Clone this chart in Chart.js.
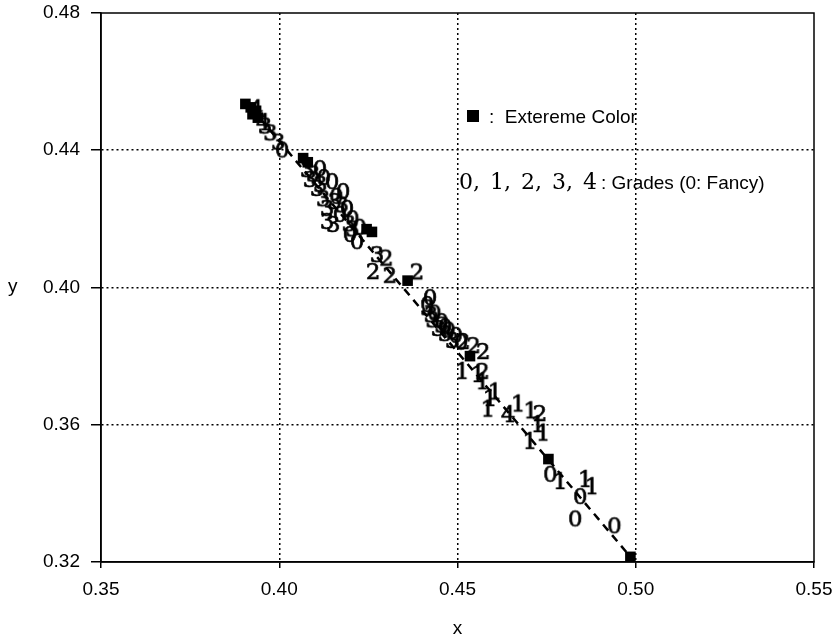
<!DOCTYPE html>
<html><head><meta charset="utf-8">
<script src="https://cdn.jsdelivr.net/npm/chart.js@4"></script>
<style>
html,body{margin:0;padding:0;background:#fff;}
#wrap{position:relative;width:835px;height:641px;overflow:hidden;}
#c{position:absolute;left:0;top:0;}
.t{position:absolute;font-family:'Liberation Sans',Arial,sans-serif;color:#000;white-space:nowrap;line-height:1;font-size:19px;}
.s{font-family:'DejaVu Serif',serif;font-size:22px;word-spacing:3px;}
</style></head><body>
<div id="wrap">
<canvas id="c" width="835" height="641"></canvas>
<div class="t" style="left:8px;top:276px;">y</div>
<div style="position:absolute;left:467px;top:110px;width:12px;height:12px;background:#000;"></div>
<div class="t" style="left:489px;top:107px;">:&nbsp; Extereme Color</div>
<div class="t s" style="left:459px;top:171px;">0, 1, 2, 3, 4</div>
<div class="t" style="left:601px;top:173px;">: Grades (0: Fancy)</div>
</div>
<script>
// ---- data (x, y) ----
const xTicks = [0.35, 0.40, 0.45, 0.50, 0.55];
const yTicks = [0.32, 0.36, 0.40, 0.44, 0.48];
const extremeColor = [[0.3905,0.4535],[0.392,0.4525],[0.3935,0.4515],[0.3925,0.4505],[0.394,0.4495],
  [0.4067,0.4377],[0.408,0.4365],[0.426,0.4162],[0.4245,0.417],[0.436,0.402],[0.4535,0.380],
  [0.4755,0.350],[0.4985,0.3215]];
const grade0 = [[0.4008,0.4405],[0.4114,0.4351],[0.4125,0.4325],[0.4148,0.4313],[0.416,0.427],[0.4179,0.4284],
  [0.419,0.4235],[0.417,0.4217],[0.4205,0.4205],[0.4198,0.4159],[0.4225,0.418],[0.4218,0.4138],
  [0.4415,0.3955],[0.4423,0.3975],[0.4435,0.393],[0.4455,0.3905],[0.4465,0.389],[0.4475,0.388],
  [0.4495,0.3865],[0.451,0.3845],[0.476,0.346],[0.4844,0.3395],[0.483,0.333],[0.494,0.331]];
const grade1 = [[0.4513,0.376],[0.4557,0.3751],[0.457,0.373],[0.4591,0.3681],[0.4605,0.370],[0.4585,0.365],
  [0.467,0.3665],[0.4705,0.3645],[0.4703,0.3556],[0.474,0.358],[0.4725,0.3605],
  [0.4788,0.3439],[0.4858,0.3445],[0.4877,0.3424]];
const grade2 = [[0.4263,0.4051],[0.430,0.409],[0.431,0.404],[0.4386,0.405],[0.4516,0.3847],[0.4545,0.3835],
  [0.4572,0.3818],[0.457,0.376],[0.4731,0.3637]];
const grade3 = [[0.396,0.4475],[0.3975,0.4455],[0.3997,0.4428],[0.4078,0.4348],[0.4086,0.4319],[0.4095,0.4335],
  [0.4106,0.4293],[0.4115,0.4305],[0.4123,0.4263],[0.4134,0.4235],[0.4134,0.4197],[0.4151,0.4188],
  [0.4155,0.4255],[0.4175,0.4245],[0.4195,0.419],[0.4205,0.4175],[0.4274,0.410],
  [0.4415,0.3945],[0.4425,0.3925],[0.443,0.391],[0.4445,0.3885],[0.4455,0.3895],[0.4465,0.387],[0.4485,0.385]];
const grade4 = [[0.3935,0.4525],[0.3955,0.4485],[0.4642,0.3634]];
const trendLine = [[0.392,0.4525],[0.4985,0.3215]];

const pts = a => a.map(p => ({x: p[0], y: p[1]}));
function glyph(d){
  const c = document.createElement('canvas');
  c.width = 20; c.height = 24;
  const g = c.getContext('2d');
  g.font = "23px 'DejaVu Serif'";
  g.fillStyle = '#000'; g.strokeStyle = '#000'; g.lineWidth = 0.7;
  g.textAlign = 'center';
  g.textBaseline = 'alphabetic';
  g.fillText(d, 10, 20.5);
  g.strokeText(d, 10, 20.5);
  return c;
}
const gradeSet = (label, data) => ({label, data: pts(data), pointStyle: glyph(label), pointRadius: 10,
  showLine: false, order: 3});

Chart.defaults.font.family = "'Liberation Sans', Arial, sans-serif";
Chart.defaults.color = '#000';

const frame = {
  id: 'frame',
  beforeDatasetsDraw(chart){
    const {ctx, chartArea: a} = chart;
    ctx.save(); ctx.strokeStyle = '#000'; ctx.lineWidth = 1.5;
    ctx.strokeRect(a.left, a.top, a.right - a.left, a.bottom - a.top);
    ctx.restore();
  }
};
const edge = (ctx) => (ctx.index === 0 || ctx.index === 4) ? 'rgba(0,0,0,0)' : '#000';

new Chart(document.getElementById('c'), {
  type: 'scatter',
  data: { datasets: [
    {label: 'extreme', data: pts(extremeColor), pointStyle: 'rect', pointRadius: 7.5,
     backgroundColor: '#000', borderColor: '#000', borderWidth: 0, order: 1},
    {label: 'line', data: pts(trendLine), showLine: true, pointRadius: 0, borderColor: '#000',
     borderWidth: 2.5, borderDash: [8, 6], order: 2},
    gradeSet('0', grade0), gradeSet('1', grade1), gradeSet('2', grade2),
    gradeSet('3', grade3), gradeSet('4', grade4)
  ]},
  options: {
    responsive: false, animation: false, events: [],
    layout: {padding: {left: 0, right: 21, top: 13, bottom: 0}},
    plugins: {legend: {display: false}, tooltip: {enabled: false}},
    scales: {
      x: {type: 'linear', min: xTicks[0], max: xTicks[xTicks.length-1],
        afterBuildTicks: s => { s.ticks = xTicks.map(v => ({value: v})); },
        afterFit: s => { s.height = 79; s.paddingLeft = 0; s.paddingRight = 0; },
        ticks: {callback: v => Number(v).toFixed(2), font: {size: 19}, color: '#000', padding: 10, maxRotation: 0},
        grid: {color: edge, lineWidth: 1.5, tickLength: 6, tickColor: '#000', tickWidth: 1.5},
        border: {display: true, color: '#000', width: 1.5, dash: [2, 3]},
        title: {display: true, text: 'x', font: {size: 19}, color: '#000', padding: {top: 0, bottom: 1}}
      },
      y: {type: 'linear', min: yTicks[0], max: yTicks[yTicks.length-1],
        afterBuildTicks: s => { s.ticks = yTicks.map(v => ({value: v})); },
        afterFit: s => { s.width = 101; s.paddingTop = 0; s.paddingBottom = 0; },
        ticks: {callback: v => Number(v).toFixed(2), font: {size: 19}, color: '#000', padding: 11},
        grid: {color: edge, lineWidth: 1.5, tickLength: 10, tickColor: '#000', tickWidth: 1.5},
        border: {display: true, color: '#000', width: 1.5, dash: [2, 3]}
      }
    }
  },
  plugins: [frame]
});
</script>
</body></html>
